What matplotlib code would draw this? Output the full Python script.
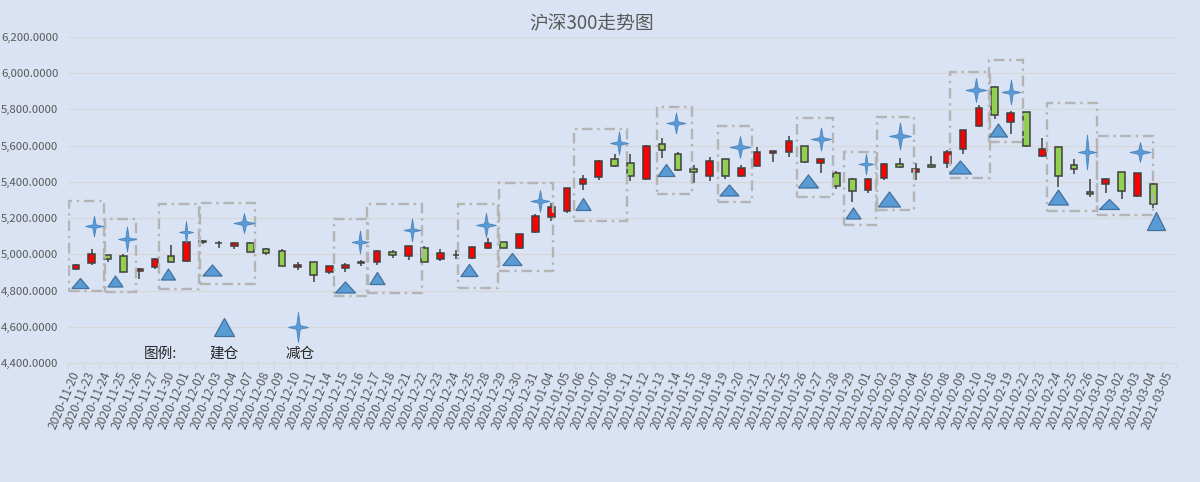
import numpy as np
import matplotlib
matplotlib.use("Agg")
import matplotlib.pyplot as plt
import matplotlib.transforms as mtransforms
from matplotlib.path import Path
from matplotlib.patches import Rectangle
from matplotlib.ticker import FuncFormatter, FixedLocator

plt.rcParams['font.family'] = ['Noto Sans CJK SC', 'DejaVu Sans']

# ---------------- data ----------------
dates = [
    "2020-11-20", "2020-11-23", "2020-11-24", "2020-11-25", "2020-11-26", "2020-11-27", "2020-11-30",
    "2020-12-01", "2020-12-02", "2020-12-03", "2020-12-04", "2020-12-07", "2020-12-08", "2020-12-09",
    "2020-12-10", "2020-12-11", "2020-12-14", "2020-12-15", "2020-12-16", "2020-12-17", "2020-12-18",
    "2020-12-21", "2020-12-22", "2020-12-23", "2020-12-24", "2020-12-25", "2020-12-28", "2020-12-29",
    "2020-12-30", "2020-12-31", "2021-01-04", "2021-01-05", "2021-01-06", "2021-01-07", "2021-01-08",
    "2021-01-11", "2021-01-12", "2021-01-13", "2021-01-14", "2021-01-15", "2021-01-18", "2021-01-19",
    "2021-01-20", "2021-01-21", "2021-01-22", "2021-01-25", "2021-01-26", "2021-01-27", "2021-01-28",
    "2021-01-29", "2021-02-01", "2021-02-02", "2021-02-03", "2021-02-04", "2021-02-05", "2021-02-08",
    "2021-02-09", "2021-02-10", "2021-02-18", "2021-02-19", "2021-02-22", "2021-02-23", "2021-02-24",
    "2021-02-25", "2021-02-26", "2021-03-01", "2021-03-02", "2021-03-03", "2021-03-04", "2021-03-05",
]

opens = [4921, 4951, 4995, 4990, 4907, 4929, 4990, 4962, 5069, 5060, 5045, 5063, 5028, 5017,
         4930, 4956, 4901, 4927, 4953, 4956, 5012, 4993, 5034, 4973, 4996, 4982, 5037, 5068,
         5034, 5122, 5208, 5241, 5388, 5426, 5525, 5503, 5415, 5610, 5555, 5470, 5435, 5525,
         5435, 5490, 5558, 5564, 5597, 5503, 5448, 5417, 5354, 5424, 5498, 5454, 5492, 5503,
         5581, 5708, 5923, 5733, 5785, 5542, 5592, 5492, 5343, 5387, 5454, 5324, 5387, np.nan]
closes = [4940, 5000, 4973, 4905, 4918, 4976, 4956, 5067, 5071, 5062, 5061, 5015, 5006, 4938,
          4941, 4885, 4934, 4941, 4955, 5019, 4995, 5045, 4960, 5006, 4998, 5039, 5061, 5037,
          5111, 5210, 5264, 5365, 5417, 5516, 5490, 5435, 5599, 5575, 5468, 5457, 5516, 5435,
          5475, 5564, 5571, 5627, 5509, 5525, 5376, 5349, 5417, 5498, 5481, 5472, 5481, 5564,
          5686, 5807, 5768, 5779, 5597, 5581, 5435, 5470, 5332, 5415, 5349, 5448, 5277, np.nan]
highs = [4946, 5030, 4998, 5000, 4926, 4978, 5050, 5070, 5080, 5072, 5070, 5066, 5036, 5028,
         4960, 4958, 4936, 4950, 4969, 5022, 5024, 5048, 5046, 5028, 5024, 5041, 5089, 5070,
         5114, 5223, 5283, 5368, 5439, 5520, 5555, 5553, 5601, 5643, 5564, 5494, 5540, 5527,
         5494, 5592, 5573, 5654, 5599, 5527, 5461, 5420, 5420, 5507, 5531, 5507, 5545, 5577,
         5688, 5825, 5930, 5789, 5787, 5641, 5600, 5525, 5417, 5420, 5457, 5450, 5396, np.nan]
lows = [4915, 4940, 4960, 4905, 4862, 4918, 4955, 4960, 5057, 5035, 5030, 5012, 4995, 4936,
        4915, 4846, 4890, 4905, 4936, 4943, 4978, 4969, 4958, 4965, 4973, 4973, 5030, 5034,
        5030, 5118, 5184, 5230, 5355, 5411, 5480, 5407, 5413, 5532, 5459, 5395, 5407, 5415,
        5426, 5485, 5512, 5540, 5503, 5448, 5360, 5291, 5338, 5409, 5475, 5411, 5474, 5476,
        5555, 5705, 5750, 5662, 5595, 5540, 5374, 5443, 5315, 5341, 5304, 5315, 5255, np.nan]

# buy markers (建仓): position on category axis, price level, drawn size (w, h in px)
buy_x = [0.26, 2.47, 5.81, 8.59, 16.99, 19.01, 24.82, 27.53, 32.01, 37.25, 41.23, 46.22,
         49.06, 51.33, 55.81, 58.21, 62.0, 65.22, 68.19]
buy_y = [4842, 4853, 4892, 4914, 4820, 4870, 4914, 4975, 5278, 5466, 5356, 5406,
         5229, 5306, 5483, 5687, 5317, 5278, 5185]
buy_w = [17, 15, 14, 19, 20, 15, 17, 19, 15, 17, 19, 20, 15, 22, 22, 18, 20, 20, 18]
buy_h = [10, 11, 11, 11, 11, 12, 12, 12, 12, 12, 11, 13, 11, 15, 13, 13, 15, 10, 18]

# sell markers (减仓)
sell_x = [1.14, 3.23, 6.95, 10.61, 17.93, 21.22, 25.89, 29.30, 34.29, 37.88, 41.92, 47.04,
          49.88, 52.02, 56.82, 59.03, 63.83, 67.18]
sell_y = [5157, 5085, 5125, 5172, 5070, 5135, 5162, 5297, 5617, 5724, 5590, 5636,
          5498, 5654, 5908, 5899, 5567, 5567]
sell_w = [18, 18, 14, 21, 17, 17, 20, 19, 18, 19, 21, 20, 15, 22, 21, 19, 18, 21]
sell_h = [21, 25, 22, 20, 23, 23, 24, 22, 23, 21, 22, 23, 21, 27, 24, 25, 35, 20]

# holding-period boxes
box_x0 = [-0.44, 1.84, 5.25, 7.83, 16.29, 18.38, 24.12, 26.71, 31.44, 36.68, 40.54, 45.52,
          48.49, 50.57, 55.18, 57.64, 61.31, 64.46]
box_x1 = [1.77, 3.79, 7.77, 11.31, 18.44, 21.85, 26.65, 30.12, 34.79, 38.89, 42.68, 47.80,
          50.51, 52.91, 57.71, 59.79, 64.46, 68.00]
box_y0 = [4799, 4794, 4809, 4836, 4770, 4785, 4813, 4910, 5186, 5334, 5291, 5316,
          5162, 5245, 5424, 5619, 5240, 5218]
box_y1 = [5297, 5194, 5278, 5286, 5196, 5278, 5277, 5393, 5691, 5813, 5706, 5755,
          5567, 5761, 6004, 6074, 5838, 5656]

legend_buy = (9.35, 4600)
legend_sell = (14.02, 4600)
legend_text = [("图例:", 5.31), ("建仓", 9.35), ("减仓", 14.15)]

title = "沪深300走势图"
yticks = [4400, 4600, 4800, 5000, 5200, 5400, 5600, 5800, 6000, 6200]

# ---------------- styling ----------------
BG = "#dae3f3"
GRID = "#d6d8dc"
TXT = "#595959"
RED = "#ff0000"
GREEN = "#92d050"
EDGE = "#404040"
BLUE = "#5b9bd5"
BLUE_EDGE = "#41719c"
BOX = "#b4b4b4"
DPI = 100

fig = plt.figure(figsize=(12, 4.82), dpi=DPI, facecolor=BG)
ax = fig.add_axes([68 / 1200, (482 - 363) / 482, (1177 - 68) / 1200, (363 - 37) / 482])
ax.set_facecolor(BG)

n = len(dates)
xs = np.arange(n)
o = np.array(opens, float)
c = np.array(closes, float)
h = np.array(highs, float)
l = np.array(lows, float)
valid = ~np.isnan(o)

# wicks
ax.vlines(xs[valid], l[valid], h[valid], color=EDGE, lw=1.1, zorder=3)
# bodies
bottoms = np.minimum(o, c)
heights = np.maximum(np.abs(c - o), 1.5)
cols = [RED if cc >= oo else GREEN for oo, cc in zip(o, c)]
ax.bar(xs[valid], heights[valid], bottom=bottoms[valid], width=0.42,
       color=[cols[i] for i in range(n) if valid[i]], edgecolor=EDGE, linewidth=1.1, zorder=4)

# boxes
for x0, x1, y0, y1 in zip(box_x0, box_x1, box_y0, box_y1):
    ax.add_patch(Rectangle((x0, y0), x1 - x0, y1 - y0, fill=False, edgecolor=BOX,
                           linewidth=1.7, linestyle=(0, (4.5, 2.0, 1.0, 2.0)), zorder=5))


def tri_path(w, hh):
    return Path([(-w / 2, -hh / 2), (w / 2, -hh / 2), (0, hh / 2), (-w / 2, -hh / 2)],
                [Path.MOVETO, Path.LINETO, Path.LINETO, Path.CLOSEPOLY])


def star_path(w, hh):
    a = 0.09 * w
    verts = [(0, hh / 2), (a, a), (w / 2, 0), (a, -a), (0, -hh / 2), (-a, -a), (-w / 2, 0), (-a, a), (0, hh / 2)]
    codes = [Path.MOVETO] + [Path.LINETO] * 7 + [Path.CLOSEPOLY]
    return Path(verts, codes)


px2pt = 72 / DPI
for x, y, w, hh in zip(buy_x, buy_y, buy_w, buy_h):
    ax.plot([x], [y], marker=tri_path(w, hh), markersize=max(w, hh) * px2pt,
            markerfacecolor=BLUE, markeredgecolor=BLUE_EDGE, markeredgewidth=0.9,
            linestyle='none', zorder=6)
for x, y, w, hh in zip(sell_x, sell_y, sell_w, sell_h):
    ax.plot([x], [y], marker=star_path(w, hh), markersize=max(w, hh) * px2pt,
            markerfacecolor=BLUE, markeredgecolor="#4a86c0", markeredgewidth=0.6,
            linestyle='none', zorder=6)

# legend inside plot
ax.plot([legend_buy[0]], [legend_buy[1]], marker=tri_path(20, 18), markersize=20 * px2pt,
        markerfacecolor=BLUE, markeredgecolor=BLUE_EDGE, markeredgewidth=0.9, linestyle='none', zorder=6)
ax.plot([legend_sell[0]], [legend_sell[1]], marker=star_path(20, 30), markersize=30 * px2pt,
        markerfacecolor=BLUE, markeredgecolor="#4a86c0", markeredgewidth=0.6, linestyle='none', zorder=6)
for t, x in legend_text:
    ax.text(x, 4450, t, ha='center', va='center', fontsize=10.5, color="#262626", zorder=7)

# axes
ax.set_xlim(-0.5, n - 0.5)
ax.set_ylim(yticks[0], yticks[-1])
ax.set_yticks(yticks)
ax.yaxis.set_major_formatter(FuncFormatter(lambda v, p: f"{v:,.4f}"))
ax.grid(axis='y', color=GRID, linewidth=1.0, zorder=0)
ax.set_axisbelow(True)
for s in ['left', 'right', 'top']:
    ax.spines[s].set_visible(False)
ax.spines['bottom'].set_color(GRID)
ax.spines['bottom'].set_linewidth(1.0)

ax.set_xticks(xs)
ax.set_xticklabels(dates, rotation=67, ha='right', va='center', rotation_mode='anchor',
                   fontsize=8.6, color=TXT)
shift = mtransforms.ScaledTranslation(4 / DPI, 0, fig.dpi_scale_trans)
for lab in ax.get_xticklabels():
    lab.set_transform(lab.get_transform() + shift)
ax.xaxis.set_minor_locator(FixedLocator(np.arange(-0.5, n, 1.0)))
ax.tick_params(axis='x', which='major', length=0, pad=6.5)
ax.tick_params(axis='x', which='minor', length=4, color=GRID, width=1)
ax.tick_params(axis='y', length=0, pad=7, labelsize=8.2, labelcolor=TXT)

fig.text(592 / 1200, 1 - 24 / 482, title, ha='center', va='center', fontsize=13.5, color=TXT)

fig.savefig("out.png", dpi=DPI, facecolor=BG)
